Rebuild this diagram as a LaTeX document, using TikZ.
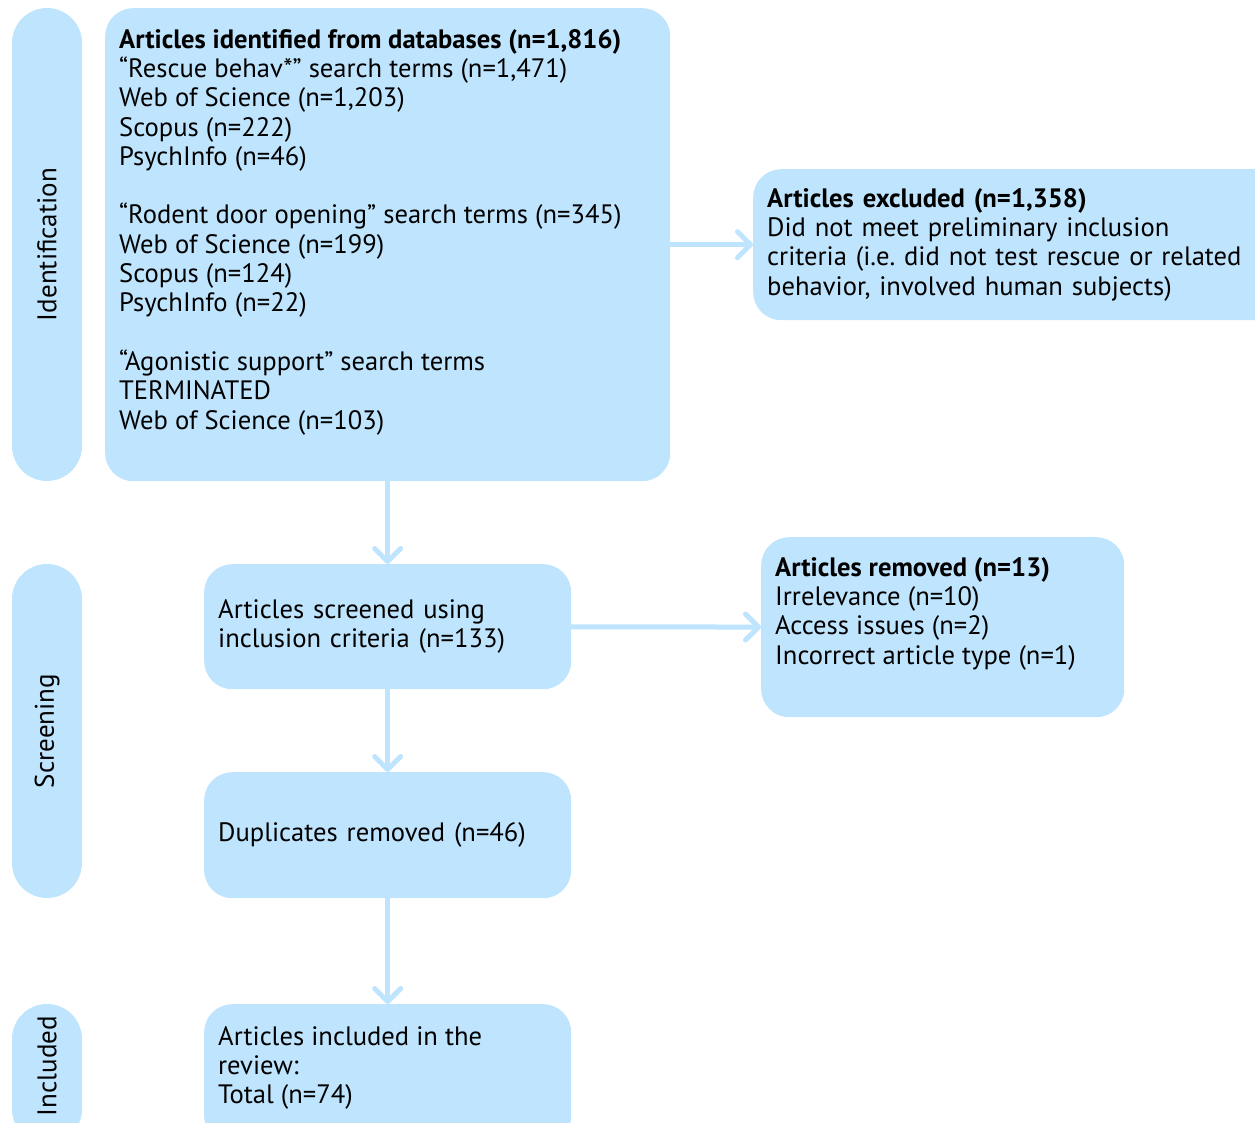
\documentclass[tikz,border=0pt]{standalone}
\usepackage{fontspec}
\setmainfont{PT Sans}
\frenchspacing
\usetikzlibrary{arrows.meta,positioning}
\definecolor{stageblue}{RGB}{191,228,253}
\newcommand\toptext[3]{\parbox[t][#2][t]{#1}{\raggedright #3}}

\tikzset{
  stage/.style={fill=stageblue, rounded corners=28pt, anchor=north west,
    align=left, inner xsep=14pt, inner ysep=0pt,
    font=\fontsize{26.6}{29.3}\selectfont},
  phase/.style={fill=stageblue, rounded corners=35pt, rotate=90,
    minimum height=70pt, inner sep=0pt,
    font=\fontsize{27}{30}\selectfont},
  flow/.style={stageblue, line width=5pt, line cap=round,
    -{Straight Barb[length=13pt,width=26pt,round]}}
}

\begin{document}
\begin{tikzpicture}[x=1pt,y=-1pt]
  \useasboundingbox (0,0) rectangle (1255,1123);
  % phase bars
  \node[phase, minimum width=473pt] (idphase) at (47,244.5) {Identification};
  \node[phase, minimum width=334pt] (scrphase) at (47,731) {Screening};
  \node[phase, minimum width=140pt] (inclphase) at (47,1074) {\hspace*{16pt}Included};
  % boxes
  \node[stage, inner ysep=21pt] (ident) at (105,8)
    {\toptext{537pt}{431pt}{%
      \textbf{Articles identified from databases (n=1,816)}\\
      “Rescue behav*” search terms (n=1,471)\\
      Web of Science (n=1,203)\\
      Scopus (n=222)\\
      PsychInfo (n=46)\\[29.3pt]
      “Rodent door opening” search terms (n=345)\\
      Web of Science (n=199)\\
      Scopus (n=124)\\
      PsychInfo (n=22)\\[29.3pt]
      “Agonistic support” search terms\\
      TERMINATED\\
      Web of Science (n=103)}};
  \node[stage, minimum width=540pt, minimum height=151pt, text width=512pt] (excl) at (753,169)
    {\textbf{Articles excluded (n=1,358)}\\
     Did not meet preliminary inclusion\\
     criteria (i.e. did not test rescue or related\\
     behavior, involved human subjects)};
  \node[stage, minimum width=367pt, minimum height=125pt, text width=339pt] (screen) at (204,564)
    {Articles screened using\\inclusion criteria (n=133)};
  \node[stage, inner ysep=20pt] (removed) at (761,537)
    {\toptext{335pt}{140pt}{%
      \textbf{Articles removed (n=13)}\\
      Irrelevance (n=10)\\
      Access issues (n=2)\\
      Incorrect article type (n=1)}};
  \node[stage, minimum width=367pt, minimum height=126pt, text width=339pt] (dup) at (204,772)
    {Duplicates removed (n=46)};
  \node[stage, inner ysep=22pt] (incl) at (204,1004)
    {\toptext{339pt}{96pt}{%
      Articles included in the\\
      review:\\
      Total (n=74)}};
  % connectors
  \draw[flow] (ident) -- (screen);
  \draw[flow] (screen) -- (dup);
  \draw[flow] (dup) -- (incl);
  \draw[flow] (ident) -- (excl);
  \draw[flow] (screen) -- (removed);
\end{tikzpicture}
\end{document}
